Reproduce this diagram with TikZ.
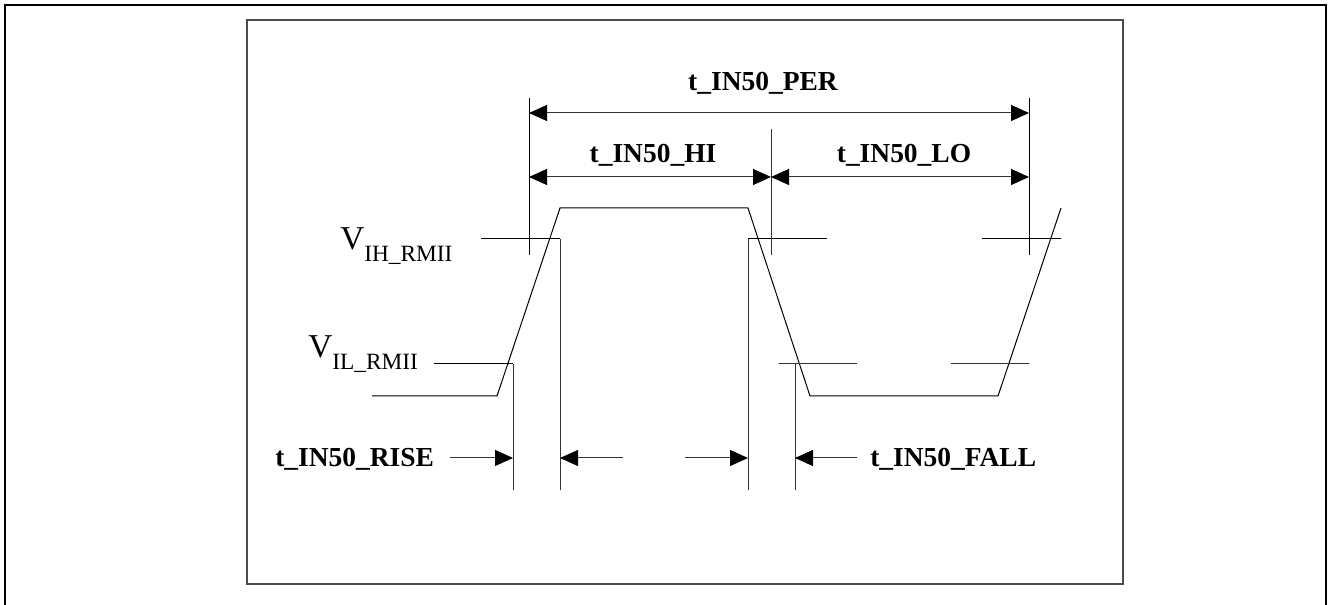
\documentclass[tikz,border=0pt]{standalone}
\usepackage{fontspec}
\setmainfont{Liberation Serif}
\usetikzlibrary{arrows.meta}
\begin{document}
\begin{tikzpicture}[x=0.75pt,y=-0.75pt,
  frame/.style={black, line width=1.1pt},
  innerframe/.style={black!70, line width=1.1pt},
  wave/.style={black, line width=0.75pt},
  refline/.style={black!80, line width=0.75pt},
  dimarrow/.style={black!80, line width=0.75pt, -{Triangle[length=13.5pt,width=12pt,black]}},
  dimboth/.style={black!80, line width=0.75pt, {Triangle[length=13.5pt,width=12pt,black]}-{Triangle[length=13.5pt,width=12pt,black]}},
  lbl/.style={font=\fontsize{20.6}{24}\selectfont\bfseries, inner sep=0pt},
  vlbl/.style={inner sep=0pt, anchor=base west},
]
\useasboundingbox (0,0) rectangle (1329,605);
% frames
\draw[frame] (5,605) -- (5,5) -- (1326,5) -- (1326,605);
\draw[innerframe] (247,20) rectangle (1123,584);

% waveform points
\coordinate (w0) at (372,396);
\coordinate (w1) at (497,396);
\coordinate (w2) at (560,208);
\coordinate (w3) at (748,208);
\coordinate (w4) at (810,396);
\coordinate (w5) at (998,396);
\coordinate (w6) at (1061,208);
\draw[wave] (w0) -- (w1) -- (w2) -- (w3) -- (w4) -- (w5) -- (w6);

% threshold / reference lines
\coordinate (ih1a) at (481,239); \coordinate (ih1b) at (560,239); \coordinate (ih1c) at (560,490);
\coordinate (il1a) at (434,364); \coordinate (il1b) at (513,364); \coordinate (il1c) at (513,490);
\coordinate (ih2a) at (827,239); \coordinate (ih2b) at (748,239); \coordinate (ih2c) at (748,490);
\coordinate (il2a) at (779,364); \coordinate (il2b) at (857,364);
\coordinate (il2t) at (795,364); \coordinate (il2c) at (795,490);
\coordinate (il3a) at (951,364); \coordinate (il3b) at (1029,364);
\coordinate (ih3a) at (982,239); \coordinate (ih3b) at (1061,239);
\draw[wave] (ih1a) -- (ih1b);
\draw[refline] (ih1b) -- (ih1c);
\draw[wave] (il1a) -- (il1b);
\draw[refline] (il1b) -- (il1c);
\draw[wave] (ih2a) -- (ih2b);
\draw[refline] (ih2b) -- (ih2c);
\draw[refline] (il2a) -- (il2b);
\draw[refline] (il2t) -- (il2c);
\draw[refline] (il3a) -- (il3b);
\draw[wave] (ih3a) -- (ih3b);

% dimension verticals
\coordinate (d1t) at (529,98);  \coordinate (d1b) at (529,255);
\coordinate (d2t) at (771,129); \coordinate (d2b) at (771,255);
\coordinate (d3t) at (1029,98); \coordinate (d3b) at (1029,255);
\draw[wave] (d1t) -- (d1b);
\draw[refline] (d2t) -- (d2b);
\draw[wave] (d3t) -- (d3b);

% dimension arrows
\coordinate (perL) at (529,113); \coordinate (perR) at (1029,113);
\coordinate (hiL) at (529,177); \coordinate (mid) at (771,177); \coordinate (loR) at (1029,177);
\draw[dimboth] (perL) -- (perR);
\draw[dimboth] (hiL) -- (mid);
\draw[dimboth] (mid) -- (loR);

\node[lbl, anchor=base] (per) at (763,91) {t\_IN50\_PER};
\node[lbl, anchor=base] (hi) at (653,163) {t\_IN50\_HI};
\node[lbl, anchor=base] (lo) at (904,163) {t\_IN50\_LO};

% bottom arrows
\coordinate (a1s) at (450,458); \coordinate (a1e) at (513,458);
\coordinate (a2s) at (623,458); \coordinate (a2e) at (560,458);
\coordinate (a3s) at (685,458); \coordinate (a3e) at (748,458);
\coordinate (a4s) at (857,458); \coordinate (a4e) at (795,458);
\draw[dimarrow] (a1s) -- (a1e);
\draw[dimarrow] (a2s) -- (a2e);
\draw[dimarrow] (a3s) -- (a3e);
\draw[dimarrow] (a4s) -- (a4e);

\node[lbl, anchor=base west] (rise) at (275,467) {t\_IN50\_RISE};
\node[lbl, anchor=base west] (fall) at (870,467) {t\_IN50\_FALL};

% voltage labels
\node[vlbl] (vih) at (340,250) {\fontsize{25}{28}\selectfont V\raisebox{-9pt}{\fontsize{17.5}{20}\selectfont IH\_RMII}};
\node[vlbl] (vil) at (308,358) {\fontsize{25}{28}\selectfont V\raisebox{-9pt}{\fontsize{17.5}{20}\selectfont IL\_RMII}};
\end{tikzpicture}
\end{document}
